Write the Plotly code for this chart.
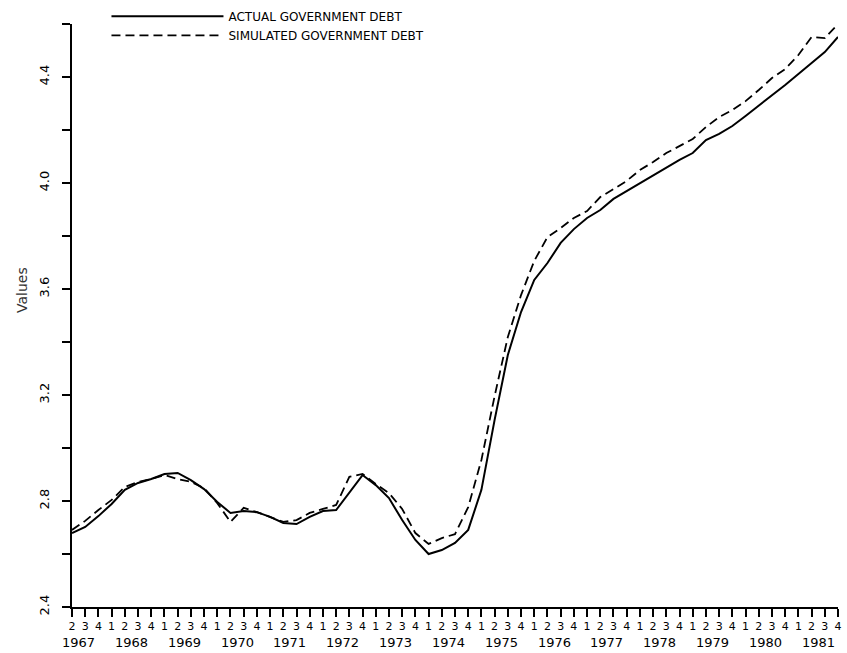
import plotly.graph_objects as go

# ---- data (quarterly, 1967 Q2 .. 1981 Q4) ----
start_year = 1967
start_quarter = 2
year_labels = [str(y) for y in range(1967, 1982)]

actual_debt = [
    2.679, 2.702, 2.743, 2.789, 2.842, 2.868, 2.883, 2.902, 2.906, 2.879,
    2.845, 2.796, 2.755, 2.762, 2.758, 2.740, 2.717, 2.713, 2.740, 2.762,
    2.766, 2.834, 2.898, 2.860, 2.811, 2.728, 2.653, 2.600, 2.615, 2.642,
    2.691, 2.842, 3.106, 3.351, 3.513, 3.634, 3.698, 3.774, 3.826, 3.868,
    3.898, 3.940, 3.970, 4.000, 4.030, 4.060, 4.087, 4.113, 4.162, 4.185,
    4.215, 4.253, 4.291, 4.332, 4.370, 4.411, 4.453, 4.494, 4.551,
]
simulated_debt = [
    2.691, 2.725, 2.766, 2.804, 2.853, 2.872, 2.883, 2.898, 2.883, 2.872,
    2.849, 2.792, 2.721, 2.774, 2.758, 2.740, 2.721, 2.728, 2.755, 2.770,
    2.785, 2.891, 2.902, 2.864, 2.830, 2.770, 2.679, 2.638, 2.660, 2.675,
    2.777, 2.955, 3.196, 3.419, 3.577, 3.706, 3.796, 3.830, 3.868, 3.894,
    3.947, 3.977, 4.008, 4.049, 4.079, 4.113, 4.140, 4.166, 4.211, 4.249,
    4.275, 4.309, 4.351, 4.396, 4.430, 4.483, 4.551, 4.547, 4.600,
]

y_tick_values = [2.4, 2.6, 2.8, 3.0, 3.2, 3.4, 3.6, 3.8, 4.0, 4.2, 4.4, 4.6]
y_tick_labels = ["2.4", "", "2.8", "", "3.2", "", "3.6", "", "4.0", "", "4.4", ""]

# ---- build quarterly time axis ----
periods, quarter_labels = [], []
yr, q = start_year, start_quarter
for _ in actual_debt:
    periods.append(yr + (q - 1) / 4)
    quarter_labels.append(str(q))
    q += 1
    if q > 4:
        q, yr = 1, yr + 1

FONT = "DejaVu Sans"

fig = go.Figure()
fig.add_trace(go.Scatter(
    x=periods, y=actual_debt, mode="lines", name="ACTUAL GOVERNMENT DEBT",
    line=dict(color="black", width=2),
))
fig.add_trace(go.Scatter(
    x=periods, y=simulated_debt, mode="lines", name="SIMULATED GOVERNMENT DEBT",
    line=dict(color="black", width=1.8, dash="9px,5px"),
))

annotations = []
for lbl in year_labels:
    annotations.append(dict(
        x=int(lbl) + 0.375, xref="x", y=0, yref="paper",
        text=lbl, showarrow=False, xanchor="center", yanchor="middle", yshift=-35,
        font=dict(family=FONT, size=13, color="black"),
    ))
annotations.append(dict(
    x=-0.065, xref="paper", y=0.544, yref="paper", text="Values",
    xanchor="center", yanchor="middle",
    textangle=-90, showarrow=False, font=dict(family=FONT, size=14, color="#333"),
))

fig.update_layout(
    width=847, height=653,
    margin=dict(l=72, r=9, t=24, b=46, autoexpand=False),
    paper_bgcolor="white", plot_bgcolor="white",
    font=dict(family=FONT, color="black"),
    showlegend=True,
    legend=dict(
        x=0.045, y=1.038, xanchor="left", yanchor="top",
        bgcolor="rgba(0,0,0,0)", font=dict(family=FONT, size=12, color="black"),
        itemwidth=112, tracegroupgap=0,
    ),
    annotations=annotations,
    xaxis=dict(
        range=[periods[0], periods[-1]],
        tickmode="array", tickvals=periods, ticktext=quarter_labels,
        ticks="outside", ticklen=8, tickwidth=1.5, tickcolor="black",
        showline=True, linecolor="black", linewidth=2,
        showgrid=False, zeroline=False,
        tickfont=dict(family=FONT, size=11, color="black"),
    ),
    yaxis=dict(
        range=[2.4, 4.6],
        tickmode="array", tickvals=y_tick_values, ticktext=y_tick_labels,
        ticks="outside", ticklen=8, tickwidth=1.5, tickcolor="black",
        tickangle=-90, ticklabelstandoff=8,
        showline=True, linecolor="black", linewidth=2,
        showgrid=False, zeroline=False,
        tickfont=dict(family=FONT, size=13, color="black"),
    ),
)

fig.write_html("out.html", config={"displayModeBar": False},
               post_script="document.body.style.margin='0';")
